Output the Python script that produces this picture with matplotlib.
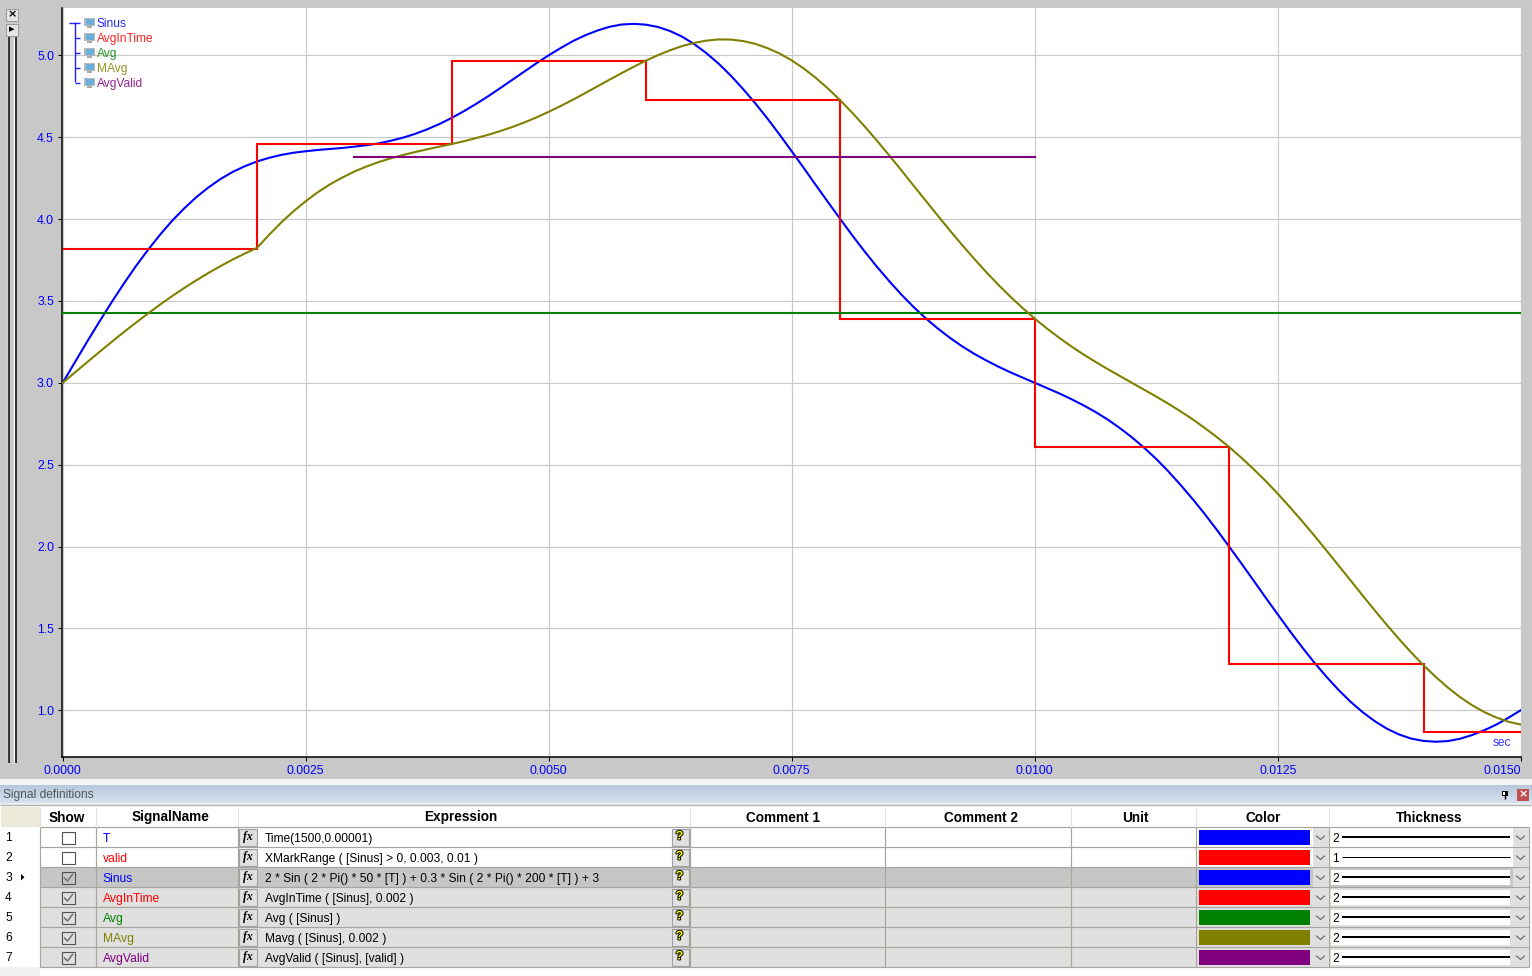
import numpy as np
import matplotlib
matplotlib.use("Agg")
import matplotlib.pyplot as plt
from matplotlib.patches import Rectangle, Polygon
import matplotlib.patheffects as pe

plt.rcParams['font.family'] = ['Liberation Sans', 'DejaVu Sans']

# ---------- data ----------
time_s = [i * 0.000125 for i in range(121)]
sinus = [3.000, 3.125, 3.250, 3.371, 3.489, 3.602, 3.710, 3.810, 3.903, 3.989, 4.065, 4.134,
         4.193, 4.245, 4.288, 4.323, 4.352, 4.374, 4.392, 4.405, 4.414, 4.422, 4.428, 4.434,
         4.442, 4.451, 4.462, 4.478, 4.497, 4.520, 4.548, 4.580, 4.617, 4.658, 4.702, 4.749,
         4.799, 4.850, 4.901, 4.952, 5.000, 5.045, 5.087, 5.122, 5.151, 5.174, 5.188, 5.192,
         5.187, 5.173, 5.148, 5.113, 5.067, 5.012, 4.948, 4.875, 4.794, 4.707, 4.614, 4.516,
         4.414, 4.311, 4.206, 4.102, 4.000, 3.899, 3.802, 3.710, 3.623, 3.541, 3.465, 3.396,
         3.333, 3.276, 3.224, 3.178, 3.137, 3.099, 3.064, 3.032, 3.000, 2.968, 2.936, 2.901,
         2.863, 2.822, 2.776, 2.724, 2.667, 2.604, 2.535, 2.459, 2.377, 2.290, 2.198, 2.101,
         2.000, 1.898, 1.794, 1.689, 1.586, 1.484, 1.386, 1.293, 1.206, 1.125, 1.052, 0.988,
         0.933, 0.887, 0.852, 0.827, 0.813, 0.808, 0.812, 0.826, 0.849, 0.878, 0.913, 0.955, 1.000]
mavg = [3.000, 3.063, 3.125, 3.187, 3.248, 3.308, 3.366, 3.422, 3.477, 3.529, 3.579, 3.626,
        3.671, 3.713, 3.753, 3.790, 3.824, 3.905, 3.980, 4.048, 4.109, 4.164, 4.212, 4.253,
        4.290, 4.321, 4.348, 4.371, 4.391, 4.409, 4.426, 4.442, 4.458, 4.475, 4.494, 4.514,
        4.537, 4.562, 4.590, 4.621, 4.655, 4.691, 4.729, 4.769, 4.810, 4.851, 4.891, 4.930,
        4.967, 5.001, 5.031, 5.057, 5.076, 5.090, 5.097, 5.096, 5.087, 5.070, 5.044, 5.011,
        4.969, 4.919, 4.861, 4.796, 4.725, 4.648, 4.566, 4.480, 4.391, 4.300, 4.207, 4.115,
        4.023, 3.932, 3.844, 3.759, 3.677, 3.599, 3.526, 3.457, 3.392, 3.332, 3.276, 3.223,
        3.174, 3.128, 3.084, 3.042, 3.000, 2.958, 2.916, 2.872, 2.826, 2.777, 2.724, 2.668,
        2.608, 2.543, 2.474, 2.401, 2.323, 2.241, 2.156, 2.068, 1.977, 1.885, 1.793, 1.700,
        1.609, 1.520, 1.434, 1.352, 1.275, 1.204, 1.139, 1.081, 1.031, 0.989, 0.956, 0.930, 0.913]
step_edges = [0.0, 0.002, 0.004, 0.006, 0.008, 0.010, 0.012, 0.014, 0.015]
avg_in_time = [3.82, 4.46, 4.965, 4.725, 3.39, 2.61, 1.28, 0.87]
avg_x = [0.0, 0.015]
avg_y = [3.428, 3.428]
valid_x = [0.003, 0.010]
valid_y = [4.38, 4.38]

x_ticks = [0.0, 0.0025, 0.005, 0.0075, 0.01, 0.0125, 0.015]
x_labels = ['0.0000', '0.0025', '0.0050', '0.0075', '0.0100', '0.0125', '0.0150']
y_ticks = [1.0, 1.5, 2.0, 2.5, 3.0, 3.5, 4.0, 4.5, 5.0]
legend_names = ['Sinus', 'AvgInTime', 'Avg', 'MAvg', 'AvgValid']
legend_colors = ['#0000ff', '#ff0000', '#008000', '#808000', '#800080']

col_titles = ['Show', 'SignalName', 'Expression', 'Comment 1', 'Comment 2', 'Unit', 'Color', 'Thickness']
row_names = ['T', 'valid', 'Sinus', 'AvgInTime', 'Avg', 'MAvg', 'AvgValid']
row_exprs = ['Time(1500,0.00001)',
             'XMarkRange ( [Sinus] > 0, 0.003, 0.01 )',
             '2 * Sin ( 2 * Pi() * 50 * [T] ) + 0.3 * Sin ( 2 * Pi() * 200 * [T] ) + 3',
             'AvgInTime ( [Sinus], 0.002 )',
             'Avg ( [Sinus] )',
             'Mavg ( [Sinus], 0.002 )',
             'AvgValid ( [Sinus], [valid] )']
row_colors = ['#0000ff', '#ff0000', '#0000ff', '#ff0000', '#008000', '#808000', '#800080']
row_thick = [2, 1, 2, 2, 2, 2, 2]
row_show = [False, False, True, True, True, True, True]
row_fill = ['#ffffff', '#ffffff', '#c6c6c6', '#e0e0e0', '#e0e0e0', '#e0e0e0', '#e0e0e0']

# ---------- layout ----------
W, H = 1532, 976
fig = plt.figure(figsize=(W / 100, H / 100), dpi=100, facecolor='#ffffff')


def px_axes(z):
    a = fig.add_axes([0, 0, 1, 1], zorder=z)
    a.set_xlim(0, W)
    a.set_ylim(H, 0)
    a.axis('off')
    a.patch.set_alpha(0)
    return a


bg = px_axes(0)
fg = px_axes(5)


def rect(a, x0, y0, x1, y1, fc, ec='none', lw=0, z=1):
    a.add_patch(Rectangle((x0, y0), x1 - x0, y1 - y0, fc=fc, ec=ec, lw=lw, zorder=z))


def line(a, xs, ys, c, lw=0.72, z=2):
    a.plot(xs, ys, color=c, lw=lw, solid_capstyle='butt', zorder=z)


# window chrome
rect(bg, 0, 0, W, 779, '#c8c8c8')
rect(bg, 0, 779, W, 785, '#f4f4f4')
grad = np.linspace(0, 1, 32).reshape(-1, 1)
bg.imshow(np.array([[[0.72 + 0.12 * g, 0.78 + 0.10 * g, 0.85 + 0.09 * g] for g in row] for row in grad]),
          extent=(0, W, 803, 785), aspect='auto', zorder=1)
bg.set_xlim(0, W)
bg.set_ylim(H, 0)
rect(bg, 0, 803, W, 806, '#f0f0f0')
line(bg, [0, W], [804.5, 804.5], '#b4b4b4', 1.0)
bg.text(3, 798, 'Signal definitions', fontsize=8.64, color='#505860', va='baseline', ha='left', zorder=3)

# splitter and buttons on the left
for x in (7.5, 14):
    line(bg, [x, x], [37, 763], '#ffffff', 0.9, z=2)
    line(bg, [x + 1.5, x + 1.5], [37, 763], '#000000', 1.1, z=2)
for y0, lab in ((9, '×'), (24, '▸')):
    rect(bg, 6, y0, 18, y0 + 12, '#e4e4e4', '#9a9a9a', 0.7, z=3)
    bg.text(12, y0 + 5.6, lab, fontsize=8, fontweight='bold', color='#000000', ha='center', va='center',
            family='DejaVu Sans', zorder=4)

# pin and close icon
rect(bg, 1517, 789, 1529, 801, '#c05050')
bg.text(1523, 794.6, '×', fontsize=8, color='#ffffff', fontweight='bold', ha='center', va='center',
        family='DejaVu Sans', zorder=4)
line(bg, [1504.5, 1504.5], [791, 799], '#000000', 1.0)
rect(bg, 1501.5, 791, 1507.5, 796, '#000000')
rect(bg, 1503, 792, 1505, 795, '#ffffff', z=3)

# ---------- chart ----------
ax = fig.add_axes([62 / W, 1 - 757 / H, (1521 - 62) / W, (757 - 8) / H], zorder=2)
ax.set_xlim(-0.7 / 97200, (1521 - 62.7) / 97200)
ax.set_ylim(5.0 - (757 - 55.3) / 163.75, 5.0 + (55.3 - 8) / 163.75)
ax.set_facecolor('#ffffff')
ax.grid(True, color='#c8c8c8', lw=0.85)
ax.set_axisbelow(True)
for s in ('top', 'right'):
    ax.spines[s].set_visible(False)
for s in ('left', 'bottom'):
    ax.spines[s].set_linewidth(1.1)
    ax.spines[s].set_color('#000000')

ax.set_xticks(x_ticks)
ax.set_xticklabels(x_labels)
ax.set_yticks(y_ticks)
ax.set_yticklabels([f'{v:.1f}' for v in y_ticks])
ax.tick_params(axis='both', labelsize=8.8, labelcolor='#0000ff', color='#000000', length=3.2, width=0.75, pad=2.5)
ax.tick_params(axis='x', pad=2.2)
ax.get_xticklabels()[-1].set_ha('right')

lw = 1.5
ax.plot(time_s, sinus, color='#0000ff', lw=lw, zorder=3)
ax.stairs(avg_in_time, step_edges, baseline=None, color='#ff0000', lw=lw, zorder=4)
ax.plot(avg_x, avg_y, color='#008000', lw=lw, zorder=5)
ax.plot(time_s, mavg, color='#808000', lw=lw, zorder=6)
ax.plot(valid_x, valid_y, color='#800080', lw=lw, zorder=7)

# tree legend
line(fg, [74.5, 74.5], [22, 82], '#2020ff', 1.0)
for i, (name, col) in enumerate(zip(legend_names, legend_colors)):
    y = 22.5 + i * 15
    line(fg, [69 if i == 0 else 74.5, 80], [y, y], '#2020ff', 1.0)
    rect(fg, 84, y - 5, 95, y + 3, '#b8b8b8', z=3)
    rect(fg, 85.5, y - 4, 93.5, y + 2, '#6aaede', z=4)
    rect(fg, 87, y + 3, 92, y + 5, '#a8a8a8', z=3)
    fg.text(97, y + 1.2, name, color=col, fontsize=8.64, ha='left', va='center', zorder=4, alpha=0.85)
fg.text(1511, 746, 'sec', color='#3030ff', fontsize=8.6, ha='right', va='baseline', zorder=4)

# ---------- table ----------
col_x = [0, 40, 96, 238, 690, 885, 1071, 1196, 1329, 1529]
title_cx = [67, 171, 461, 783, 980.5, 1135.5, 1263, 1429]
title_y = [821.5, 821.5, 821.5, 821.5, 822.5, 821.5, 821.5, 821.5]
head_top, head_bot = 807, 827
row_h = 20
grid = '#a8a69c'
rect(bg, 0, 806, 1529, head_bot, '#ffffff')
rect(bg, 0, head_bot, 40, head_bot + 7 * row_h, '#ffffff')
rect(bg, 0, head_bot + 7 * row_h, 40, H, '#f0f0f0')
rect(bg, 1, head_top, 40, head_bot, '#ece9d8')
for j, t in enumerate(col_titles):
    bg.text(title_cx[j], title_y[j], t, fontsize=9.8, fontweight='bold', color='#000000', ha='center',
            va='baseline', zorder=4)
    line(bg, [col_x[j + 1]] * 2, [head_top, head_bot], '#e4e4e4', 0.8, z=3)

for i in range(7):
    y0 = head_bot + i * row_h
    y1 = y0 + row_h
    yc = y0 + 10
    rect(bg, col_x[1], y0, col_x[-1], y1, row_fill[i])
    bg.text(5, yc + 4, str(i + 1), fontsize=8.64, color='#000000', ha='left', va='baseline', zorder=4)
    bg.text(102.5, yc + 5, row_names[i], fontsize=8.7, color=row_colors[i], ha='left', va='baseline', zorder=4)
    bg.text(265, yc + 5, row_exprs[i], fontsize=8.64, color='#000000', ha='left', va='baseline', zorder=4)
    # checkbox
    rect(bg, 62, yc - 5, 75, yc + 7, '#ffffff' if not row_show[i] else row_fill[i], '#505050', 0.8, z=3)
    if row_show[i]:
        bg.plot([64.5, 67.5, 72.5], [yc + 1, yc + 4, yc - 2.5], color='#707070', lw=1.1, zorder=4)
    # fx button
    rect(bg, 239, y0 + 2, 257, y1 - 1, '#e0e0e0', '#a0a0a0', 0.8, z=3)
    bg.text(248, yc, 'fx', fontsize=8.5, fontweight='bold', fontstyle='italic', family='Liberation Serif',
            color='#000000', ha='center', va='center', zorder=4)
    # help button
    rect(bg, 671.5, y0 + 2, 688.5, y1 - 1, '#e0e0e0', '#a0a0a0', 0.8, z=3)
    bg.text(679.5, yc - 0.5, '?', fontsize=9, fontweight='bold', color='#ffff00', ha='center', va='center', zorder=4,
            path_effects=[pe.withStroke(linewidth=1.4, foreground='#000000')])
    # colour swatch
    rect(bg, 1199, y0 + 3, 1310, y0 + 18, row_colors[i], z=3)
    rect(bg, 1312.5, y0 + 1, 1328.5, y1, '#e0e0e0', z=3)
    bg.plot([1316.5, 1320.5, 1324.5], [yc - 1, yc + 2.5, yc - 1], color='#606060', lw=0.8, zorder=4)
    # thickness
    rect(bg, 1331, y0 + 3, 1510, y0 + 18, '#ffffff', z=3)
    bg.text(1332, yc + 4.5, str(row_thick[i]), fontsize=8.64, color='#000000', ha='left', va='baseline', zorder=4)
    line(bg, [1342, 1510], [yc - 0.5, yc - 0.5], '#000000', 0.72 * row_thick[i], z=4)
    rect(bg, 1512.5, y0 + 1, 1528.5, y1, '#e0e0e0', z=3)
    bg.plot([1516.5, 1520.5, 1524.5], [yc - 1, yc + 2.5, yc - 1], color='#606060', lw=0.8, zorder=4)
    line(bg, [40, col_x[-1]], [y1, y1], grid, 0.85, z=2)

# selected row arrow
bg.add_patch(Polygon([[21, 874], [21, 880.5], [24.5, 877.2]], closed=True, fc='#000000', zorder=4))

line(bg, [40, col_x[-1]], [head_bot, head_bot], grid, 0.85, z=2)
for x in col_x[1:]:
    line(bg, [x, x], [head_bot, head_bot + 7 * row_h], grid, 0.85, z=2)

fig.savefig('out.png', dpi=100)
